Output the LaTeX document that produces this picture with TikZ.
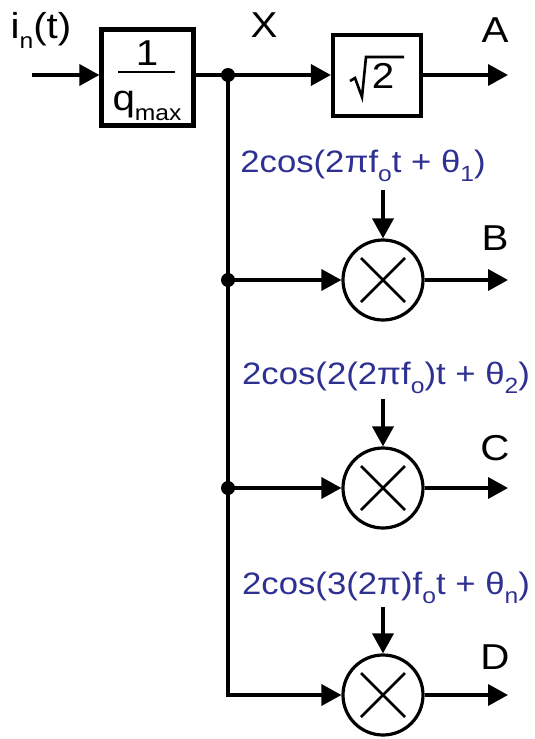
\documentclass[tikz,border=0pt]{standalone}
\usepackage{fontspec}
\usepackage{graphicx}
\setmainfont{Liberation Sans}
\usetikzlibrary{arrows.meta}
\definecolor{lblblue}{RGB}{46,49,146}
\newcommand{\wide}[1]{\scalebox{1.12}[1]{#1}}
\newcommand{\sbs}[1]{\raisebox{-0.28em}{\fontsize{22}{24}\selectfont #1}}
\begin{document}
\begin{tikzpicture}[x=1pt,y=-1pt,
  wire/.style={line width=3.6pt},
  sig/.style={wire,-{Triangle[length=20pt,width=21pt]}},
  blk/.style={draw,line width=4.2pt,minimum width=92pt,minimum height=96pt,inner sep=0pt},
  mult/.style={draw,circle,line width=3.2pt,minimum size=80pt,inner sep=0pt},
  lbl/.style={font=\fontsize{36}{40}\selectfont,inner sep=0pt},
  cosl/.style={font=\fontsize{31}{36}\selectfont,text=lblblue,inner sep=0pt},
  jdot/.style={circle,fill,inner sep=0pt,minimum size=14pt}]
\useasboundingbox (0,0) rectangle (535,739);
% blocks
\node[blk] (b1) at (147.5,77.5) {};
\node[blk,minimum width=88pt,minimum height=81pt] (b2) at (377,75.5) {};
\node[mult] (m1) at (383,280) {};
\node[mult] (m2) at (383,488) {};
\node[mult] (m3) at (383,695) {};
% crosses in multipliers
\foreach \m in {m1,m2,m3}{
  \draw[line width=2.6pt] (\m.center) ++(-22,-22) -- ++(44,44);
  \draw[line width=2.6pt] (\m.center) ++(22,-22) -- ++(-44,44);
}
% fraction in block 1
\node[lbl] (one) at (147,53) {\wide{1}};
\draw[line width=2.8pt] (118,72) -- (175,72);
\node[lbl,anchor=base] (qm) at (147,110) {\wide{q\sbs{max}}};
% sqrt 2
\node[lbl] (two) at (383,76) {\wide{2}};
\draw[line width=2.6pt,line join=miter] (350,81) -- (355,78) -- (362,97) -- (366,57) -- (404,57);
% coordinates
\coordinate (in) at (32,75);
\coordinate (j0) at (228,75);
\coordinate (j1) at (228,280);
\coordinate (j2) at (228,488);
\coordinate (j3) at (228,695);
\coordinate (oA) at (508,75);
\coordinate (oB) at (508,280);
\coordinate (oC) at (508,488);
\coordinate (oD) at (508,695);
% wires
\draw[sig] (in) -- (b1.west |- in);
\draw[wire] (b1.east |- j0) -- (j0);
\draw[sig] (j0) -- (b2.west |- j0);
\draw[sig] (b2.east |- oA) -- (oA);
\draw[wire,line join=miter] (j0) -- (j3) -- ++(5,0);
\draw[sig] (j1) -- (m1.west);
\draw[sig] (j2) -- (m2.west);
\draw[sig] (j3) -- (m3.west);
\draw[sig] (m1.east) -- (oB);
\draw[sig] (m2.east) -- (oC);
\draw[sig] (m3.east) -- (oD);
\node[jdot] (d0) at (j0) {};
\node[jdot] (d1) at (j1) {};
\node[jdot] (d2) at (j2) {};
% cos labels
\node[cosl] (c1) at (363,166) {\wide{2cos(2πf\sbs{o}t + θ\sbs{1})}};
\node[cosl] (c2) at (386,378) {\wide{2cos(2(2πf\sbs{o})t + θ\sbs{2})}};
\node[cosl] (c3) at (386,588) {\wide{2cos(3(2π)f\sbs{o}t + θ\sbs{n})}};
\coordinate (t1) at (383,190);
\coordinate (t2) at (383,399);
\coordinate (t3) at (383,607);
\draw[sig] (t1) -- (m1.north);
\draw[sig] (t2) -- (m2.north);
\draw[sig] (t3) -- (m3.north);
% labels
\node[lbl] (lin) at (41,30) {\wide{i\sbs{n}(t)}};
\node[lbl] (lX) at (264,25) {\wide{X}};
\node[lbl] (lA) at (495,30) {\wide{A}};
\node[lbl] (lB) at (495,238) {\wide{B}};
\node[lbl] (lC) at (495,448) {\wide{C}};
\node[lbl] (lD) at (495,657) {\wide{D}};
\end{tikzpicture}
\end{document}
